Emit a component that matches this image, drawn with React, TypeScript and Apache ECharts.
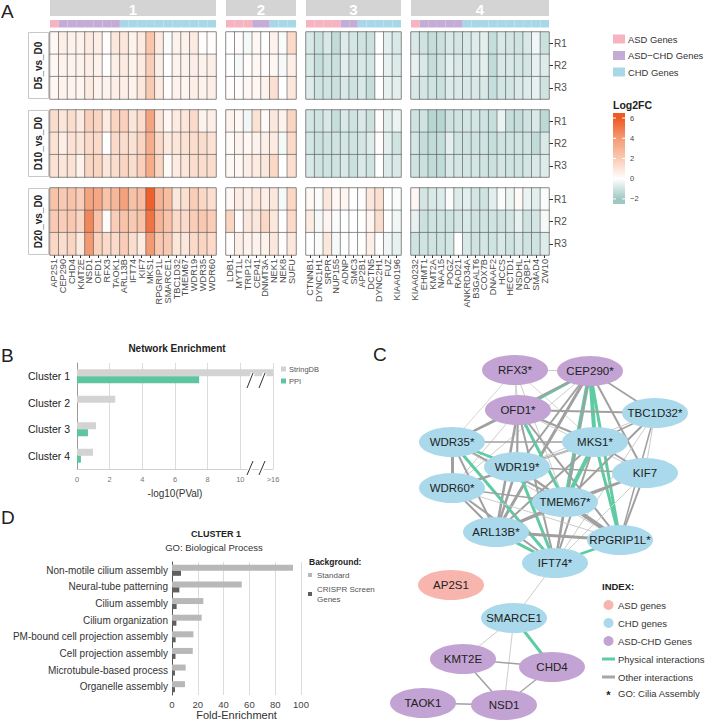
import React, { useEffect, useRef } from "react";
import * as echarts from "echarts";

const FONT = "'Liberation Sans', Arial, Helvetica, sans-serif";

// ---------------- Panel A data ----------------
const conditions = ["D5_vs_D0", "D10_vs_D0", "D20_vs_D0"];
const reps = ["R1", "R2", "R3"];
const clusterNames = ["1", "2", "3", "4"];

const genes1 = ["AP2S1", "CEP290", "CHD4", "KMT2E", "NSD1", "OFD1", "RFX3", "TAOK1", "ARL13B", "IFT74", "KIF7", "MKS1", "RPGRIP1L", "SMARCE1", "TBC1D32", "TMEM67", "WDR19", "WDR35", "WDR60"];
const types1 = ["ASD", "ASD-CHD", "ASD-CHD", "ASD-CHD", "ASD-CHD", "ASD-CHD", "ASD-CHD", "ASD-CHD", "CHD", "CHD", "CHD", "CHD", "CHD", "CHD", "CHD", "CHD", "CHD", "CHD", "CHD"];
const genes2 = ["LDB1", "MYT1L", "TRIP12", "CEP41", "DNMT3A", "NEK1", "NEK8", "SUFU"];
const types2 = ["ASD", "ASD", "ASD", "ASD-CHD", "ASD-CHD", "CHD", "CHD", "CHD"];
const genes3 = ["CTNNB1", "DYNC1H1", "SRPR", "NUP155", "ADNP", "SMC3", "AP2B1", "DCTN5", "DYNC2H1", "FUZ", "KIAA0196"];
const types3 = ["ASD", "ASD", "ASD", "ASD", "ASD-CHD", "ASD-CHD", "CHD", "CHD", "CHD", "CHD", "CHD"];
const genes4 = ["KIAA0232", "EHMT1", "KMT2A", "NAA15", "POGZ", "RAD21", "ANKRD34A", "B3GALT6", "COX7B", "DNAAF2", "HCCS", "HECTD1", "NSDHL", "PQBP1", "SMAD4", "ZW10"];
const types4 = ["ASD", "ASD-CHD", "ASD-CHD", "ASD-CHD", "ASD-CHD", "ASD-CHD", "CHD", "CHD", "CHD", "CHD", "CHD", "CHD", "CHD", "CHD", "CHD", "CHD"];

// Log2FC per replicate (rows R1..R3)
const c1_D5 = [
  [0.3, 0.6, 0.5, 0.5, 0.8, 0.6, 0.1, 0.9, 0.9, 0.5, 0.8, 2.2, 0.8, -0.1, 0.5, 0.5, 0.8, 0.1, 0.1],
  [0.3, 0.5, 0.5, 0.5, 0.6, 0.5, 0.0, 0.6, 0.8, 0.5, 0.8, 1.9, 0.6, 0.0, 0.5, 0.5, 0.6, 0.5, 0.6],
  [0.3, 0.5, 0.5, 0.4, 0.8, 0.5, 0.5, 0.6, 0.6, 0.5, 0.9, 2.0, 0.8, 0.1, 0.5, 0.4, 0.6, 0.5, 0.6],
];
const c1_D10 = [
  [1.3, 1.0, 1.3, 0.8, 1.8, 1.6, 0.8, 1.6, 1.8, 1.0, 1.3, 3.6, 1.0, 0.3, 0.8, 1.0, 1.4, 0.5, 0.6],
  [1.1, 0.6, 1.1, 1.0, 1.4, 1.4, 0.0, 1.4, 1.3, 1.1, 1.6, 3.2, 1.4, 0.8, 1.0, 1.1, 1.3, 1.3, 1.1],
  [1.1, 1.0, 1.1, 0.5, 1.6, 1.6, 1.0, 1.3, 1.6, 1.3, 1.8, 3.3, 1.6, 0.2, 0.8, 1.0, 1.3, 1.3, 1.3],
];
const c1_D20 = [
  [2.3, 2.0, 2.3, 1.9, 3.6, 3.4, 2.3, 2.8, 3.7, 2.4, 2.5, 5.8, 3.0, 2.6, 0.9, 1.2, 1.9, 1.5, 1.2],
  [2.0, 1.9, 2.1, 1.6, 4.6, 2.3, 0.2, 1.9, 2.3, 2.0, 2.3, 5.2, 2.9, 2.3, 1.4, 1.4, 1.9, 2.1, 1.9],
  [1.5, 1.3, 1.6, 0.8, 4.0, 1.7, 1.4, 1.4, 1.9, 1.3, 0.8, 4.0, 2.1, 2.0, 1.0, 0.9, 1.4, 1.6, 1.4],
];
const c2_D5 = [
  [0.0, 0.1, -0.2, 0.3, 0.0, 0.5, -0.1, 1.4],
  [0.0, -0.2, 0.1, 0.3, 0.1, 0.3, -0.2, 0.6],
  [0.1, 0.1, 0.3, 0.3, 0.5, 1.2, 0.0, 0.9],
];
const c2_D10 = [
  [0.5, 0.3, -0.3, 1.1, 0.2, 0.9, 0.5, 1.6],
  [0.2, 0.5, 0.3, 0.5, 0.6, 0.8, -0.2, 1.4],
  [0.3, 0.3, 0.6, 0.8, 0.9, 1.5, 0.0, 1.2],
];
const c2_D20 = [
  [0.3, 0.7, 0.6, 0.9, 0.6, 0.9, -0.2, 1.5],
  [1.6, 0.1, 0.9, 0.9, 1.5, 0.9, 0.0, 1.4],
  [0.1, 0.6, 0.5, 0.5, 0.5, 0.9, 0.1, 0.9],
];
const c3_D5 = [
  [-0.8, -1.1, -0.8, -1.3, -0.7, -0.9, -1.0, -1.1, 0.0, -0.6, -0.8],
  [-0.8, -1.2, -1.0, -1.1, -0.6, -0.9, -0.8, -0.9, 0.0, -0.5, -0.7],
  [-0.7, -1.0, -1.0, -1.1, -0.8, -1.0, -0.8, -1.2, 0.0, -0.5, -0.6],
];
const c3_D10 = [
  [-0.9, -1.0, -0.8, -1.2, -0.8, -1.0, -0.8, -1.1, 0.1, -0.6, -0.4],
  [-0.9, -1.1, -1.0, -1.0, -0.9, -1.0, -0.9, -0.7, 0.1, -0.6, -1.0],
  [-0.8, -1.0, -1.0, -1.0, -0.8, -1.1, -0.8, -1.0, 0.0, -0.7, -0.8],
];
const c3_D20 = [
  [0.3, -0.1, 0.9, 0.3, 0.4, 0.0, 0.1, 0.9, 1.2, 0.0, -0.1],
  [0.7, -0.2, 0.4, -0.1, 0.0, 0.0, 0.0, 0.4, 1.3, 0.0, -0.3],
  [0.0, -0.1, 0.9, -0.2, 0.0, 0.0, 0.0, 0.6, 0.0, -0.3, -0.5],
];
const c4_D5 = [
  [-0.8, -1.0, -1.2, -1.1, -0.8, -0.9, -0.8, -0.7, -0.6, -1.2, -0.8, -0.9, -1.0, -0.8, -0.3, -1.1],
  [-0.5, -0.8, -1.2, -1.0, -0.6, -0.8, -0.8, -0.7, -0.6, -1.3, -0.8, -0.8, -0.9, -0.9, -0.5, -0.7],
  [-0.8, -0.9, -1.0, -1.1, -0.7, -0.8, -0.8, -0.8, -0.8, -1.2, -0.9, -0.9, -0.8, -0.7, -0.5, -1.0],
];
const c4_D10 = [
  [-1.0, -1.0, -1.5, -1.5, -1.0, -1.0, -0.9, -0.9, -1.0, -1.2, -0.4, -1.2, -1.2, -1.0, -0.8, -1.4],
  [-0.9, -1.2, -1.3, -1.2, -0.6, -1.0, -1.0, -1.0, -1.0, -1.2, -1.0, -1.0, -1.0, -1.0, -1.3, -0.8],
  [-1.0, -1.1, -1.3, -1.3, -0.8, -0.9, -0.9, -0.9, -1.0, -1.1, -0.9, -1.0, -1.0, -0.9, -0.8, -0.7],
];
const c4_D20 = [
  [0.3, -0.9, -0.8, -0.7, -0.1, -0.7, -0.6, -0.9, -1.0, -0.6, -0.1, -0.4, 0.2, -0.4, -0.6, -0.1],
  [-0.5, -1.1, -1.0, -1.0, -1.0, -0.9, -0.8, -1.0, -1.0, -1.0, -1.0, -0.9, -0.5, -1.0, -0.9, -0.2],
  [-1.0, -1.0, -1.0, -1.0, -0.9, 0.0, -0.8, -1.0, -0.9, -1.0, -0.8, -1.0, -0.8, -1.0, -1.0, -0.7],
];

const legendTicks = [6, 4, 2, 0, -2];

// ---------------- Panel B data ----------------
const clustersB = ["Cluster 1", "Cluster 2", "Cluster 3", "Cluster 4"];
const stringDB = [12, 2.34, 1.16, 0.98]; // cluster 1 is ">16", drawn at the axis break (12)
const ppi = [7.48, null, 0.67, 0.24];

// ---------------- Panel D data ----------------
const goTerms = ["Non-motile cilium assembly", "Neural-tube patterning", "Cilium assembly", "Cilium organization", "PM-bound cell projection assembly", "Cell projection assembly", "Microtubule-based process", "Organelle assembly"];
const foldStandard = [93.8, 54.1, 24.3, 23.0, 16.6, 16.1, 10.6, 10.1];
const foldCrispr = [7.0, 5.7, 3.6, 3.4, 2.8, 2.7, 2.3, 2.3];

// ---------------- Panel C data ----------------
const nodeNames = ["RFX3*", "CEP290*", "OFD1*", "TBC1D32*", "WDR35*", "MKS1*", "WDR19*", "KIF7", "WDR60*", "TMEM67*", "ARL13B*", "RPGRIP1L*", "IFT74*", "AP2S1", "SMARCE1", "KMT2E", "CHD4", "TAOK1", "NSD1"];
const nodeTypes = ["ASD-CHD", "ASD-CHD", "ASD-CHD", "CHD", "CHD", "CHD", "CHD", "CHD", "CHD", "CHD", "CHD", "CHD", "CHD", "ASD", "CHD", "ASD-CHD", "ASD-CHD", "ASD-CHD", "ASD-CHD"];
// edges: [source, target, strength, kind]
const edges: [string, string, number, string][] = [
  ["RFX3*", "CEP290*", 1, "other"], ["RFX3*", "OFD1*", 1, "other"], ["RFX3*", "WDR35*", 0.8, "other"], ["RFX3*", "MKS1*", 0.8, "other"], ["RFX3*", "TMEM67*", 1, "other"], ["RFX3*", "WDR19*", 0.8, "other"],
  ["CEP290*", "OFD1*", 3, "phys"], ["CEP290*", "TBC1D32*", 1.5, "other"], ["CEP290*", "MKS1*", 4, "phys"], ["CEP290*", "TMEM67*", 4, "phys"], ["CEP290*", "RPGRIP1L*", 3, "phys"], ["CEP290*", "WDR35*", 2, "other"], ["CEP290*", "WDR19*", 2, "other"], ["CEP290*", "ARL13B*", 3, "other"], ["CEP290*", "IFT74*", 2, "other"], ["CEP290*", "KIF7", 2, "other"], ["CEP290*", "WDR60*", 1, "other"],
  ["OFD1*", "TBC1D32*", 2, "other"], ["OFD1*", "MKS1*", 2, "other"], ["OFD1*", "TMEM67*", 3, "phys"], ["OFD1*", "WDR35*", 1.5, "other"], ["OFD1*", "WDR19*", 2, "other"], ["OFD1*", "ARL13B*", 2.5, "other"], ["OFD1*", "IFT74*", 2, "other"], ["OFD1*", "RPGRIP1L*", 2, "other"], ["OFD1*", "WDR60*", 1, "other"], ["OFD1*", "KIF7", 1, "other"],
  ["TBC1D32*", "MKS1*", 1.5, "other"], ["TBC1D32*", "TMEM67*", 2, "other"], ["TBC1D32*", "KIF7", 1, "other"], ["TBC1D32*", "RPGRIP1L*", 1.5, "other"], ["TBC1D32*", "WDR19*", 1, "other"], ["TBC1D32*", "IFT74*", 1, "other"],
  ["WDR35*", "WDR19*", 2.5, "phys"], ["WDR35*", "WDR60*", 3, "other"], ["WDR35*", "IFT74*", 3, "phys"], ["WDR35*", "ARL13B*", 2, "other"], ["WDR35*", "TMEM67*", 2, "other"], ["WDR35*", "MKS1*", 1.5, "other"], ["WDR35*", "RPGRIP1L*", 1, "other"],
  ["MKS1*", "TMEM67*", 4, "phys"], ["MKS1*", "RPGRIP1L*", 3, "phys"], ["MKS1*", "KIF7", 2, "other"], ["MKS1*", "WDR19*", 2, "other"], ["MKS1*", "ARL13B*", 2, "other"], ["MKS1*", "IFT74*", 2, "other"], ["MKS1*", "WDR60*", 1, "other"],
  ["WDR19*", "IFT74*", 3, "phys"], ["WDR19*", "WDR60*", 2.5, "other"], ["WDR19*", "TMEM67*", 2, "other"], ["WDR19*", "ARL13B*", 2.5, "other"], ["WDR19*", "RPGRIP1L*", 2, "other"], ["WDR19*", "KIF7", 1.5, "other"],
  ["KIF7", "TMEM67*", 2, "other"], ["KIF7", "RPGRIP1L*", 2, "other"], ["KIF7", "ARL13B*", 1.5, "other"], ["KIF7", "IFT74*", 1, "other"],
  ["WDR60*", "ARL13B*", 2, "other"], ["WDR60*", "IFT74*", 2, "other"], ["WDR60*", "TMEM67*", 1.5, "other"], ["WDR60*", "RPGRIP1L*", 1, "other"],
  ["TMEM67*", "ARL13B*", 3, "other"], ["TMEM67*", "RPGRIP1L*", 4, "other"], ["TMEM67*", "IFT74*", 2, "other"],
  ["ARL13B*", "IFT74*", 3, "phys"], ["ARL13B*", "RPGRIP1L*", 3, "other"], ["RPGRIP1L*", "IFT74*", 2.5, "phys"],
  ["IFT74*", "SMARCE1", 1, "other"], ["SMARCE1", "KMT2E", 1, "other"], ["SMARCE1", "NSD1", 1, "other"], ["SMARCE1", "CHD4", 3, "phys"],
  ["KMT2E", "CHD4", 1.5, "other"], ["KMT2E", "NSD1", 1.5, "other"], ["CHD4", "NSD1", 1.2, "other"], ["TAOK1", "NSD1", 1.5, "other"],
];

// ---------------- layout & styles ----------------
const heatColors = ["#9fc8c3", "#ffffff", "#f9cab3", "#f49a73", "#ee5924"];
const typeColors: Record<string, string> = { ASD: "#f6b3c0", "ASD-CHD": "#c4acd6", CHD: "#a8d8e8" };
const nodeColors: Record<string, string> = { ASD: "#f7b5ae", "ASD-CHD": "#c3a3d3", CHD: "#a9d9ea" };
// network node layout (pixel positions)
const nodeLayout: [number, number][] = [
  [515, 370], [590, 371], [518, 410], [655, 413], [452, 442], [595, 442], [517, 467], [645, 473], [452, 488], [565, 502], [496, 532], [620, 540], [555, 563], [451, 585], [514, 618], [463, 659], [552, 667], [423, 703], [504, 705],
];
const clusterLeft = [50, 226, 306, 411];
const clusterWidth = [166, 70, 95, 138];
const rowTop = [32, 110, 188];
const rowH = 67;

export default function App() {
  const ref = useRef<HTMLDivElement>(null);
  useEffect(() => {
    document.body.style.margin = "0";
    if (!ref.current) return;
    const chart = echarts.init(ref.current, null, { renderer: "svg" });

    const clusters = [
      { genes: genes1, types: types1, vals: [c1_D5, c1_D10, c1_D20] },
      { genes: genes2, types: types2, vals: [c2_D5, c2_D10, c2_D20] },
      { genes: genes3, types: types3, vals: [c3_D5, c3_D10, c3_D20] },
      { genes: genes4, types: types4, vals: [c4_D5, c4_D10, c4_D20] },
    ];

    const grid: any[] = [];
    const xAxis: any[] = [];
    const yAxis: any[] = [];
    const series: any[] = [];
    const graphic: any[] = [];

    // heatmaps
    clusters.forEach((cl, c) => {
      conditions.forEach((_, k) => {
        const gi = grid.length;
        grid.push({ left: clusterLeft[c], top: rowTop[k], width: clusterWidth[c], height: rowH, show: true, borderColor: "#b5b5b5", borderWidth: 1, backgroundColor: "transparent", outerBoundsMode: "none" });
        xAxis.push({
          type: "category", gridIndex: gi, data: cl.genes,
          axisLine: { show: false }, splitLine: { show: false },
          axisTick: { show: k === 2, length: 3, alignWithLabel: true, lineStyle: { color: "#333" } },
          axisLabel: { show: k === 2, rotate: 90, interval: 0, fontSize: 9.2, color: "#4d4d4d", margin: 4, fontFamily: FONT },
        });
        yAxis.push({
          type: "category", gridIndex: gi, data: reps, inverse: true, position: "right",
          axisLine: { show: false }, splitLine: { show: false },
          axisTick: { show: c === 3, length: 4, alignWithLabel: true, lineStyle: { color: "#333" } },
          axisLabel: { show: c === 3, fontSize: 10, color: "#4d4d4d", margin: 5, fontFamily: FONT },
        });
        const data: any[] = [];
        cl.vals[k].forEach((row, r) => row.forEach((v, i) => data.push([i, r, v])));
        series.push({
          type: "heatmap", xAxisIndex: gi, yAxisIndex: gi, data,
          itemStyle: { borderColor: "#555", borderWidth: 0.6 },
          emphasis: { disabled: true },
        });
      });
    });
    const heatSeriesIdx = series.map((_, i) => i);

    // gene-type bands
    clusters.forEach((cl, c) => {
      const gi = grid.length;
      grid.push({ left: clusterLeft[c], top: 20, width: clusterWidth[c], height: 7.5, outerBoundsMode: "none" });
      xAxis.push({ type: "category", gridIndex: gi, data: cl.genes, show: false });
      yAxis.push({ type: "value", gridIndex: gi, min: 0, max: 1, show: false });
      series.push({
        type: "bar", xAxisIndex: gi, yAxisIndex: gi, barCategoryGap: "0%", silent: true,
        data: cl.types.map((t) => ({ value: 1, itemStyle: { color: typeColors[t] } })),
      });
    });

    // Panel B
    const gB = grid.length;
    grid.push({ left: 77, top: 363, width: 196, height: 106, outerBoundsMode: "none" });
    xAxis.push({
      type: "value", gridIndex: gB, min: 0, max: 12, interval: 2,
      axisLine: { show: true, lineStyle: { color: "#d0d0d0" } }, axisTick: { show: false },
      splitLine: { show: true, lineStyle: { color: "#dcdcdc", width: 1 } },
      axisLabel: { fontSize: 7.5, color: "#777", margin: 6, fontFamily: FONT, formatter: (v: number) => (v === 12 ? ">16" : String(v)) },
      name: "-log10(PVal)", nameLocation: "middle", nameGap: 19,
      nameTextStyle: { fontSize: 10, color: "#333", fontFamily: FONT },
    });
    yAxis.push({
      type: "category", gridIndex: gB, data: clustersB, inverse: true,
      axisLine: { show: true, lineStyle: { color: "#999" } }, axisTick: { show: false },
      axisLabel: { fontSize: 10.5, color: "#222", margin: 7, fontFamily: FONT },
    });
    series.push({ type: "bar", name: "StringDB", xAxisIndex: gB, yAxisIndex: gB, data: stringDB, barWidth: 7, barGap: "0%", itemStyle: { color: "#d3d3d3" }, silent: true });
    series.push({ type: "bar", name: "PPI", xAxisIndex: gB, yAxisIndex: gB, data: ppi, barWidth: 7, barGap: "0%", itemStyle: { color: "#5ec5a0" }, silent: true });

    // Panel D
    const gD = grid.length;
    grid.push({ left: 172, top: 562, width: 129, height: 133, outerBoundsMode: "none" });
    xAxis.push({
      type: "value", gridIndex: gD, min: 0, max: 100, interval: 20,
      axisLine: { show: false }, axisTick: { show: false },
      splitLine: { show: true, lineStyle: { color: "#dcdcdc" } },
      axisLabel: { fontSize: 9.5, color: "#444", margin: 4, fontFamily: FONT },
      name: "Fold-Enrichment", nameLocation: "middle", nameGap: 13,
      nameTextStyle: { fontSize: 11, color: "#333", fontFamily: FONT },
    });
    yAxis.push({
      type: "category", gridIndex: gD, data: goTerms, inverse: true,
      axisLine: { show: true, lineStyle: { color: "#555" } }, axisTick: { show: false },
      axisLabel: { fontSize: 10, color: "#333", margin: 4, fontFamily: FONT },
    });
    series.push({ type: "bar", name: "Standard", xAxisIndex: gD, yAxisIndex: gD, data: foldStandard, barWidth: 6, barGap: "0%", itemStyle: { color: "#b8b8b8" }, silent: true });
    series.push({ type: "bar", name: "CRISPR Screen\nGenes", xAxisIndex: gD, yAxisIndex: gD, data: foldCrispr, barWidth: 5, barGap: "0%", itemStyle: { color: "#5f5f5f" }, silent: true });

    // Panel C network
    const xs = nodeLayout.map((p) => p[0]);
    const ys = nodeLayout.map((p) => p[1]);
    const minX = Math.min(...xs), maxX = Math.max(...xs), minY = Math.min(...ys), maxY = Math.max(...ys);
    series.push({
      type: "graph", layout: "none", left: minX, top: minY, width: maxX - minX, height: maxY - minY,
      roam: false, silent: true, symbol: "circle",
      data: nodeNames.map((n, i) => ({
        name: n, x: nodeLayout[i][0], y: nodeLayout[i][1], symbolSize: [66, 30],
        itemStyle: { color: nodeColors[nodeTypes[i]] },
      })),
      label: { show: true, position: "inside", fontSize: 11.5, color: "#222", fontFamily: FONT },
      links: edges.map(([s, t, w, kind]) => ({
        source: s, target: t,
        lineStyle: {
          width: w,
          color: kind === "phys" ? "#5ecba3" : w <= 1 ? "#cccccc" : "#a0a0a0",
          opacity: 1, curveness: 0,
        },
      })),
    });

    // ---------- graphics ----------
    const txt = (x: number, y: number, text: string, o: any = {}) => ({
      type: "text", x, y, silent: true,
      style: { text, fontSize: 10, fill: "#222", fontFamily: FONT, align: "left", verticalAlign: "middle", ...o },
    });
    // panel letters
    graphic.push(txt(1, 11, "A", { fontSize: 19 }));
    graphic.push(txt(1, 355, "B", { fontSize: 19 }));
    graphic.push(txt(373, 354, "C", { fontSize: 19 }));
    graphic.push(txt(1, 517, "D", { fontSize: 19 }));

    // cluster headers
    clusterNames.forEach((n, c) => {
      graphic.push({ type: "rect", silent: true, shape: { x: clusterLeft[c], y: 0, width: clusterWidth[c], height: 16 }, style: { fill: "#d4d4d4" } });
      graphic.push(txt(clusterLeft[c] + clusterWidth[c] / 2, 9, n, { fontSize: 15, fontWeight: "bold", fill: "#ffffff", align: "center" }));
    });
    // condition strips
    conditions.forEach((cnd, k) => {
      graphic.push({ type: "rect", silent: true, shape: { x: 28.5, y: rowTop[k] + 0.5, width: 20, height: rowH - 1 }, style: { fill: "#fff", stroke: "#c8c8c8", lineWidth: 1 } });
      graphic.push({
        type: "text", silent: true, x: 38.5, y: rowTop[k] + rowH / 2, rotation: Math.PI / 2,
        style: { text: cnd, fontSize: 10, fontWeight: "bold", fill: "#222", fontFamily: FONT, align: "center", verticalAlign: "middle" },
      });
    });
    // A legend: gene types
    const typeLabels = [["ASD", "ASD Genes"], ["ASD-CHD", "ASD\u2212CHD Genes"], ["CHD", "CHD Genes"]];
    typeLabels.forEach(([t, label], i) => {
      const y = 39 + i * 16.5;
      graphic.push({ type: "rect", silent: true, shape: { x: 613, y: y - 4.5, width: 12, height: 9 }, style: { fill: typeColors[t] } });
      graphic.push(txt(628, y, label, { fontSize: 9.4, fill: "#333" }));
    });
    // A legend: color bar
    graphic.push(txt(613, 105, "Log2FC", { fontSize: 10.5, fontWeight: "bold" }));
    const barTop = 113, barBot = 204, vTop = 6.5, vBot = -2.5;
    const vy = (v: number) => barTop + ((vTop - v) / (vTop - vBot)) * (barBot - barTop);
    const off = (v: number) => (vTop - v) / (vTop - vBot);
    graphic.push({
      type: "rect", silent: true, shape: { x: 613, y: barTop, width: 12, height: barBot - barTop },
      style: {
        fill: new echarts.graphic.LinearGradient(0, 0, 0, 1, [
          { offset: 0, color: heatColors[4] }, { offset: off(6), color: heatColors[4] },
          { offset: off(4), color: heatColors[3] }, { offset: off(2), color: heatColors[2] },
          { offset: off(0), color: heatColors[1] }, { offset: off(-2), color: heatColors[0] },
          { offset: 1, color: heatColors[0] },
        ]),
      },
    });
    legendTicks.forEach((v) => {
      graphic.push({ type: "line", silent: true, shape: { x1: 613, y1: vy(v), x2: 616, y2: vy(v) }, style: { stroke: "#fff", lineWidth: 1 } });
      graphic.push({ type: "line", silent: true, shape: { x1: 622, y1: vy(v), x2: 625, y2: vy(v) }, style: { stroke: "#fff", lineWidth: 1 } });
      graphic.push(txt(630, vy(v), String(v).replace("-", "\u2212"), { fontSize: 7.5, fill: "#444" }));
    });

    // B title & break marks
    graphic.push(txt(177, 348, "Network Enrichment", { fontSize: 10, fontWeight: "bold", align: "center" }));
    [[247, 388, 253, 373], [259, 388, 265, 373], [247, 475, 253, 461], [259, 475, 265, 461]].forEach(([x1, y1, x2, y2]) => {
      graphic.push({ type: "line", silent: true, z: 10, shape: { x1, y1, x2, y2 }, style: { stroke: "#fff", lineWidth: 4 } });
      graphic.push({ type: "line", silent: true, z: 11, shape: { x1, y1, x2, y2 }, style: { stroke: "#333", lineWidth: 1 } });
    });

    // D titles
    graphic.push(txt(216, 534, "CLUSTER 1", { fontSize: 9, fontWeight: "bold", align: "center" }));
    graphic.push(txt(214, 547, "GO: Biological Process", { fontSize: 9.5, align: "center", fill: "#333" }));
    graphic.push(txt(309, 562, "Background:", { fontSize: 8.5, fontWeight: "bold" }));

    // C index legend
    graphic.push(txt(602, 586, "INDEX:", { fontSize: 9.5, fontWeight: "bold" }));
    const idx = [["ASD", "ASD genes"], ["CHD", "CHD genes"], ["ASD-CHD", "ASD-CHD Genes"]];
    idx.forEach(([t, label], i) => {
      const y = 605 + i * 18;
      graphic.push({ type: "circle", silent: true, shape: { cx: 608.5, cy: y, r: 5 }, style: { fill: nodeColors[t] } });
      graphic.push(txt(618, y, label, { fontSize: 9.5, fill: "#333" }));
    });
    graphic.push({ type: "line", silent: true, shape: { x1: 602, y1: 659, x2: 615, y2: 659 }, style: { stroke: "#5ecba3", lineWidth: 3 } });
    graphic.push(txt(618, 659, "Physical interactions", { fontSize: 9.5, fill: "#333" }));
    graphic.push({ type: "line", silent: true, shape: { x1: 602, y1: 677, x2: 615, y2: 677 }, style: { stroke: "#a6a6a6", lineWidth: 3 } });
    graphic.push(txt(618, 677, "Other interactions", { fontSize: 9.5, fill: "#333" }));
    graphic.push(txt(608.5, 695, "*", { fontSize: 11, fontWeight: "bold", align: "center" }));
    graphic.push(txt(618, 693, "GO: Cilia Assembly", { fontSize: 9.5, fill: "#333" }));

    chart.setOption({
      animation: false,
      textStyle: { fontFamily: FONT },
      grid, xAxis, yAxis, series, graphic,
      visualMap: {
        type: "continuous", show: false, min: -2, max: 6, dimension: 2,
        seriesIndex: heatSeriesIdx, inRange: { color: heatColors },
      },
      legend: [
        {
          data: ["StringDB", "PPI"], left: 281, top: 365, orient: "vertical", icon: "rect",
          itemWidth: 5, itemHeight: 5, itemGap: 4, padding: 0, selectedMode: false,
          textStyle: { fontSize: 7.5, color: "#555", fontFamily: FONT, padding: [0, 0, 0, -2] },
        },
        {
          data: ["Standard", "CRISPR Screen\nGenes"], left: 308, top: 570, orient: "vertical", icon: "rect",
          itemWidth: 4, itemHeight: 4, itemGap: 4, padding: 0, selectedMode: false,
          textStyle: { fontSize: 8, color: "#555", fontFamily: FONT, lineHeight: 10 },
        },
      ],
    });
    return () => chart.dispose();
  }, []);
  return <div ref={ref} style={{ width: 706, height: 720 }} />;
}
